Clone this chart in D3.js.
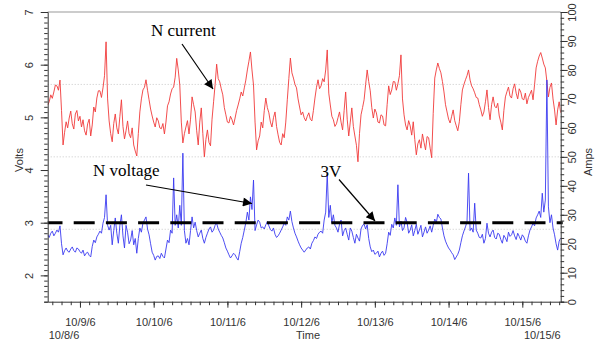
<!DOCTYPE html>
<html><head><meta charset="utf-8">
<script src="https://cdn.jsdelivr.net/npm/d3@7"></script>
<style>
html,body{margin:0;padding:0;background:#fff;}
svg{display:block;}
.ax text,.lbl{font-family:Arial,"Liberation Sans",sans-serif;font-size:11px;fill:#333;}
.ax path,.ax line{stroke:#333;}
.ann{font-family:"Liberation Serif","Times New Roman",serif;font-size:17px;fill:#000;}
</style></head>
<body>
<svg id="c" width="602" height="343"></svg>
<script>
// ---------- data ----------
const startTime = new Date(2006, 9, 8, 13, 30);   // first sample
const endTime   = new Date(2006, 9, 15, 12, 30);  // last sample
const sampleMinutes = 30;                           // one reading every half hour

// N current (Amps, right axis)
const currentAmps = [
 67.9,69.0,71.4,70.2,72.4,74.8,74.5,73.0,76.5,66.0,
 54.1,58.5,62.1,60.0,63.4,65.8,61.4,59.6,64.8,66.0,
 62.4,64.0,60.3,62.8,59.0,57.5,61.4,63.0,57.2,61.0,
 67.2,65.5,70.3,72.8,72.8,70.5,73.8,78.0,89.7,70.0,
 62.4,58.0,55.2,61.5,64.8,60.0,57.9,64.0,69.7,60.5,
 56.2,59.0,62.4,58.0,56.6,60.0,54.1,52.0,50.3,58.0,
 65.5,70.0,73.1,74.0,76.6,73.0,69.7,66.5,64.1,62.0,
 60.3,63.5,62.4,60.0,59.7,61.5,57.9,62.0,67.6,69.0,
 71.7,73.5,74.1,77.5,84.0,80.0,74.8,62.0,54.8,58.0,
 60.3,62.5,57.9,63.0,70.7,68.0,65.5,59.0,54.1,62.0,
 66.9,58.0,50.0,56.0,59.3,55.0,53.8,63.0,69.0,75.0,
 82.0,77.0,75.9,73.5,71.4,67.0,64.5,62.0,61.7,64.0,
 62.8,61.0,63.4,66.0,67.9,70.0,72.4,71.0,73.8,76.5,
 80.0,83.0,86.2,80.0,74.8,62.0,52.4,55.5,57.2,62.0,
 60.0,66.0,70.3,67.0,65.2,62.0,60.3,63.5,65.5,60.5,
 57.6,55.0,54.1,58.0,56.6,62.0,69.7,77.0,84.1,79.0,
 77.2,75.0,73.8,70.0,67.2,64.5,65.5,63.5,62.4,64.0,
 65.2,63.0,62.4,66.0,70.3,74.0,76.6,73.5,74.5,77.0,
 75.9,80.0,86.9,72.0,67.9,64.0,62.8,60.5,61.4,63.5,
 65.5,62.0,59.3,66.0,72.4,63.0,57.2,62.0,66.9,60.5,
 57.2,54.0,48.3,58.0,64.5,67.0,69.7,75.0,80.0,76.0,
 72.8,67.0,63.4,66.5,65.2,62.0,61.7,64.5,64.1,61.0,
 60.7,68.0,74.5,71.5,73.1,76.0,75.9,73.0,75.2,78.0,
 85.2,70.0,64.5,61.0,59.3,62.5,60.7,57.5,62.1,56.0,
 50.7,54.5,55.9,53.0,57.9,55.0,52.4,57.0,56.6,53.0,
 49.7,65.0,77.2,80.0,82.4,80.5,79.0,76.0,72.4,68.0,
 65.5,63.0,61.7,64.0,66.2,62.5,60.7,59.0,62.1,68.0,
 73.1,75.0,76.6,78.0,80.0,76.5,74.5,73.5,72.1,70.5,
 70.3,68.0,66.2,64.0,65.5,69.0,73.1,67.0,62.8,68.0,
 70.7,67.5,66.9,68.5,64.1,62.0,59.3,66.0,70.7,72.5,
 74.1,71.0,70.3,73.5,75.2,72.0,70.0,73.5,72.4,70.0,
 69.7,72.0,68.3,70.5,71.7,73.0,69.7,75.0,80.7,83.0,
 84.8,86.0,84.1,82.0,80.7,76.0,70.7,74.0,75.5,70.0,
 66.2,61.0,66.2,69.0,65.2
];

// N voltage (Volts, left axis)
const voltageVolts = [
 2.77,2.72,2.80,2.84,2.75,2.80,2.86,2.82,2.94,2.60,
 2.39,2.47,2.52,2.46,2.44,2.50,2.54,2.47,2.44,2.52,
 2.50,2.45,2.42,2.48,2.37,2.42,2.44,2.38,2.35,2.55,
 2.67,2.62,2.73,2.78,2.84,2.80,2.99,3.10,3.53,2.95,
 2.86,2.95,2.58,2.85,3.09,2.80,2.61,2.95,3.15,2.75,
 2.52,2.95,2.82,2.60,2.67,2.85,2.58,2.70,2.42,2.70,
 2.90,2.82,2.99,3.05,3.11,2.88,2.77,2.60,2.44,2.38,
 2.29,2.36,2.37,2.32,2.42,2.36,2.33,2.50,2.67,2.62,
 2.86,2.80,3.85,2.95,3.15,2.90,3.33,2.95,4.32,2.85,
 2.61,2.70,2.58,2.85,3.11,2.90,3.01,2.85,2.73,2.80,
 2.86,2.70,2.61,2.72,2.80,2.88,2.92,2.82,2.86,2.95,
 2.99,2.88,2.82,2.76,2.71,2.62,2.52,2.46,2.39,2.33,
 2.37,2.42,2.39,2.33,2.29,2.45,2.61,2.72,2.86,3.00,
 3.20,3.05,3.49,3.25,3.81,2.85,2.96,3.05,3.01,2.90,
 2.92,2.88,2.96,3.02,2.94,2.87,2.84,2.90,2.78,2.72,
 2.75,2.80,2.86,2.92,2.99,2.95,3.11,3.05,3.22,3.02,
 2.90,2.80,2.73,2.65,2.58,2.52,2.48,2.44,2.48,2.52,
 2.54,2.50,2.61,2.66,2.73,2.70,2.78,2.82,2.84,2.80,
 3.05,3.20,3.94,3.10,3.33,3.00,3.15,2.95,2.90,2.82,
 2.97,3.05,2.75,2.85,2.90,2.78,2.67,2.90,2.84,2.72,
 2.61,2.78,2.71,2.65,2.88,2.95,2.97,2.88,2.96,2.70,
 2.54,2.45,2.48,2.40,2.42,2.46,2.35,2.42,2.46,2.38,
 2.42,2.60,2.82,2.76,2.97,2.90,3.09,2.95,3.72,2.92,
 3.03,2.85,2.90,3.10,3.01,2.80,2.86,2.96,2.75,2.85,
 2.97,2.78,2.86,2.95,2.73,2.82,2.92,2.80,2.86,2.94,
 2.82,2.95,3.07,3.00,3.16,3.10,3.07,2.90,2.75,2.65,
 2.58,2.52,2.48,2.43,2.39,2.30,2.35,2.40,2.48,2.62,
 2.75,2.84,2.92,3.02,3.94,2.85,2.90,2.82,3.37,2.86,
 2.80,2.72,2.71,2.78,2.61,2.70,2.99,2.80,2.73,2.82,
 2.86,2.72,2.69,2.80,2.78,2.68,2.61,2.76,2.71,2.64,
 2.82,2.74,2.77,2.85,2.75,2.68,2.80,2.74,2.67,2.77,
 2.73,2.65,2.61,2.75,2.86,2.92,2.99,2.94,3.09,3.15,
 3.22,3.10,3.56,3.20,3.43,5.71,3.30,3.00,3.15,2.90,
 2.77,2.60,2.48,2.65,2.71
];

const thresholdVolts = 3;
const gridAmps = [25, 50, 75];
const voltTicks = [2, 3, 4, 5, 6, 7];
const voltLabels = ["2", "3", "4", "5", "6", "7"];
const ampTicks = [0, 10, 20, 30, 40, 50, 60, 70, 80, 90, 100];
const ampLabels = ["0","10","20","30","40","50","60","70","80","90","100"];
const dayTicks = [new Date(2006,9,9),new Date(2006,9,10),new Date(2006,9,11),new Date(2006,9,12),
                  new Date(2006,9,13),new Date(2006,9,14),new Date(2006,9,15)];
const dayLabels = ["10/9/6","10/10/6","10/11/6","10/12/6","10/13/6","10/14/6","10/15/6"];
const startLabel = "10/8/6", endLabel = "10/15/6", timeTitle = "Time";
const leftTitle = "Volts", rightTitle = "Amps";
const annotations = [
  {text:"N current", tx:151, ty:36, from:[182,44], to:[213,89]},
  {text:"N voltage", tx:93, ty:176, from:[146,185], to:[252,203.5]},
  {text:"3V", tx:320.5, ty:176.5, from:[339,179.5], to:[375,221]}
];

// ---------- layout ----------
const L = 47.7, R = 560.7, T = 12, B = 301.7;
const svg = d3.select("#c");

const times = currentAmps.map((_, i) => d3.timeMinute.offset(startTime, i * sampleMinutes));
const x = d3.scaleTime().domain([startTime, endTime]).range([L, R]);
const yV = d3.scaleLinear().domain([1.5, 7]).range([B, T]);
const yA = d3.scaleLinear().domain([0, 100]).range([B, T]);

// top border
svg.append("line").attr("x1", L).attr("x2", R).attr("y1", T).attr("y2", T)
  .attr("stroke", "#999").attr("stroke-width", 1);

// grid lines (dotted)
svg.append("g").selectAll("line").data(gridAmps).join("line")
  .attr("x1", L).attr("x2", R).attr("y1", d => yA(d)).attr("y2", d => yA(d))
  .attr("stroke", "#c8c8c8").attr("stroke-width", 1).attr("stroke-dasharray", "1,2");

// series
svg.append("clipPath").attr("id", "pc").append("rect")
  .attr("x", L).attr("y", T).attr("width", R - L).attr("height", B - T);

svg.append("path").datum(currentAmps)
  .attr("clip-path", "url(#pc)")
  .attr("fill", "none").attr("stroke", "#f03a3a").attr("stroke-width", 0.9)
  .attr("d", d3.line().x((d, i) => x(times[i])).y(d => yA(d)));

svg.append("path").datum(voltageVolts)
  .attr("clip-path", "url(#pc)")
  .attr("fill", "none").attr("stroke", "#3a3af0").attr("stroke-width", 0.9)
  .attr("d", d3.line().x((d, i) => x(times[i])).y(d => yV(d)));

// 3V dashed threshold
svg.append("line").attr("x1", L).attr("x2", R + 2)
  .attr("y1", yV(thresholdVolts)).attr("y2", yV(thresholdVolts))
  .attr("stroke", "#000").attr("stroke-width", 3)
  .attr("stroke-dasharray", "21,11.2").attr("stroke-dashoffset", 6.2);

// ---------- axes ----------
// left
const gl = svg.append("g").attr("class", "ax").attr("transform", `translate(${L},0)`);
gl.call(d3.axisLeft(yV).tickValues(d3.range(15, 71).map(v => v / 10)).tickSize(3.5).tickFormat(""));
const glM = svg.append("g").attr("class", "ax").attr("transform", `translate(${L},0)`);
glM.call(d3.axisLeft(yV).tickValues(voltTicks).tickSize(7).tickSizeOuter(0).tickFormat(""));
glM.select(".domain").remove();
glM.selectAll(".tick").each(function(d, i) {
  d3.select(this).append("text").attr("class", "lbl")
    .attr("transform", "translate(-18.5,0) rotate(-90)")
    .attr("text-anchor", "middle").attr("dominant-baseline", "central")
    .text(voltLabels[i]);
});

// right
const gr = svg.append("g").attr("class", "ax").attr("transform", `translate(${R},0)`);
gr.call(d3.axisRight(yA).tickValues(d3.range(0, 101, 2)).tickSize(3.5).tickFormat(""));
const grM = svg.append("g").attr("class", "ax").attr("transform", `translate(${R},0)`);
grM.call(d3.axisRight(yA).tickValues(ampTicks).tickSize(7).tickSizeOuter(0).tickFormat(""));
grM.select(".domain").remove();
grM.selectAll(".tick").each(function(d, i) {
  d3.select(this).append("text").attr("class", "lbl")
    .attr("transform", "translate(11.5,0) rotate(-90)")
    .attr("text-anchor", "middle").attr("dominant-baseline", "central")
    .text(ampLabels[i]);
});

// bottom
const gb = svg.append("g").attr("class", "ax").attr("transform", `translate(0,${B})`);
gb.call(d3.axisBottom(x).ticks(d3.timeHour.every(3)).tickSize(3.5).tickFormat("").tickSizeOuter(0));
const gbM = svg.append("g").attr("class", "ax").attr("transform", `translate(0,${B})`);
gbM.call(d3.axisBottom(x).tickValues(dayTicks).tickSize(6).tickSizeOuter(0)
  .tickFormat((d, i) => dayLabels[i]));
gbM.select(".domain").remove();
gbM.selectAll(".tick text").attr("y", 0).attr("dy", 0).attr("transform", "translate(0,24.5)");

// second row labels
const ax2 = svg.append("g").attr("class", "ax");
ax2.append("text").attr("x", L + 1).attr("y", 338.5).text(startLabel);
ax2.append("text").attr("x", R).attr("y", 338.5).attr("text-anchor", "end").text(endLabel);
ax2.append("text").attr("x", 308).attr("y", 338.5).attr("text-anchor", "middle").text(timeTitle);
ax2.append("text").attr("transform", "translate(23,160) rotate(-90)").attr("text-anchor", "middle").text(leftTitle);
ax2.append("text").attr("transform", `translate(592,162) rotate(-90)`).attr("text-anchor", "middle").text(rightTitle);

// ---------- annotations ----------
const defs = svg.append("defs");
defs.append("marker").attr("id", "ah").attr("viewBox", "0 0 10 10")
  .attr("refX", 10).attr("refY", 5).attr("markerWidth", 11).attr("markerHeight", 9)
  .attr("markerUnits", "userSpaceOnUse").attr("orient", "auto")
  .append("path").attr("d", "M0,0 L10,5 L0,10 Z").attr("fill", "#000");

const ga = svg.append("g");
annotations.forEach(a => {
  ga.append("text").attr("class", "ann").attr("x", a.tx).attr("y", a.ty).text(a.text);
  ga.append("line").attr("x1", a.from[0]).attr("y1", a.from[1]).attr("x2", a.to[0]).attr("y2", a.to[1])
    .attr("stroke", "#000").attr("stroke-width", 1.2).attr("marker-end", "url(#ah)");
});
</script>
</body></html>
